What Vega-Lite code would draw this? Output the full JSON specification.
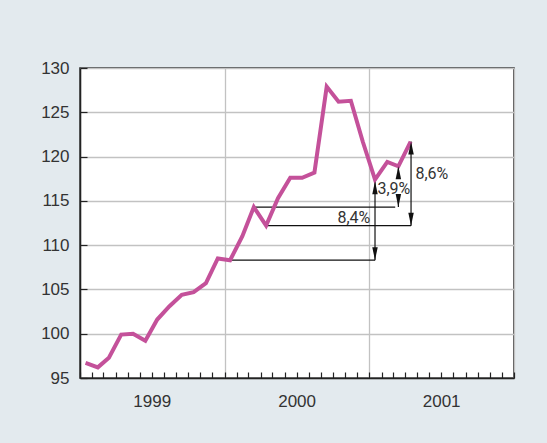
{
  "$schema": "https://vega.github.io/schema/vega-lite/v6.json",
  "width": 434,
  "height": 310,
  "autosize": {"type": "none"},
  "padding": {"left": 80, "top": 68, "right": 33, "bottom": 65},
  "background": "#e3eaee",
  "config": {
    "view": {"fill": "white", "stroke": "#222", "strokeWidth": 1.5},
    "font": "Liberation Sans",
    "axis": {
      "labelFont": "Liberation Sans",
      "labelColor": "#333",
      "labelFontSize": 17,
      "domainColor": "#222",
      "domainWidth": 1.5,
      "tickColor": "#222",
      "tickWidth": 1.2,
      "gridColor": "#c2c2c2",
      "gridWidth": 1.3
    }
  },
  "datasets": {
    "series": [
      {"date": "1999-01-15", "value": 96.7},
      {"date": "1999-02-15", "value": 96.2},
      {"date": "1999-03-15", "value": 97.3},
      {"date": "1999-04-15", "value": 99.9},
      {"date": "1999-05-15", "value": 100.0},
      {"date": "1999-06-15", "value": 99.2},
      {"date": "1999-07-15", "value": 101.6},
      {"date": "1999-08-15", "value": 103.1},
      {"date": "1999-09-15", "value": 104.4},
      {"date": "1999-10-15", "value": 104.7},
      {"date": "1999-11-15", "value": 105.7},
      {"date": "1999-12-15", "value": 108.5},
      {"date": "2000-01-15", "value": 108.3},
      {"date": "2000-02-15", "value": 111.0},
      {"date": "2000-03-15", "value": 114.3},
      {"date": "2000-04-15", "value": 112.2},
      {"date": "2000-05-15", "value": 115.3},
      {"date": "2000-06-15", "value": 117.6},
      {"date": "2000-07-15", "value": 117.6},
      {"date": "2000-08-15", "value": 118.2},
      {"date": "2000-09-15", "value": 127.9},
      {"date": "2000-10-15", "value": 126.2},
      {"date": "2000-11-15", "value": 126.3},
      {"date": "2000-12-15", "value": 121.7},
      {"date": "2001-01-15", "value": 117.4},
      {"date": "2001-02-15", "value": 119.4},
      {"date": "2001-03-15", "value": 118.9},
      {"date": "2001-04-15", "value": 121.7}
    ],
    "hlines": [
      {"start": "2000-01-15", "end": "2001-01-15", "value": 108.3},
      {"start": "2000-03-15", "end": "2001-03-07", "value": 114.3},
      {"start": "2000-04-15", "end": "2001-04-16", "value": 112.2}
    ],
    "stems": [
      {"date": "2001-01-15", "from": 108.3, "to": 117.2},
      {"date": "2001-03-15", "from": 118.9, "to": 117.6},
      {"date": "2001-03-15", "from": 114.3, "to": 115.5},
      {"date": "2001-04-16", "from": 112.2, "to": 121.7}
    ],
    "heads": [
      {"date": "2001-01-15", "value": 117.2, "dir": "up"},
      {"date": "2001-01-15", "value": 108.3, "dir": "down"},
      {"date": "2001-03-15", "value": 118.9, "dir": "up"},
      {"date": "2001-03-15", "value": 114.3, "dir": "down"},
      {"date": "2001-04-16", "value": 121.7, "dir": "up"},
      {"date": "2001-04-16", "value": 112.2, "dir": "down"}
    ],
    "labels": [
      {"date": "2000-10-12", "value": 113.1, "text": "8,4%"},
      {"date": "2001-01-21", "value": 116.3, "text": "3,9%"},
      {"date": "2001-04-27", "value": 118.0, "text": "8,6%"}
    ]
  },
  "layer": [
    {
      "data": {"name": "hlines"},
      "mark": {"type": "rule", "color": "#111", "strokeWidth": 1.2},
      "encoding": {
        "x": {"field": "start", "type": "temporal", "title": null,
          "scale": {"type": "utc", "domain": [{"year": 1999, "month": 1, "date": 1, "utc": true}, {"year": 2002, "month": 1, "date": 1, "utc": true}]},
          "axis": {
            "tickCount": {"interval": "month", "step": 1},
            "tickSize": -6,
            "labelExpr": "utcmonth(datum.value) == 6 ? '' + utcyear(datum.value) : ''",
            "labelOverlap": false,
            "labelFlush": false,
            "labelPadding": 21,
            "grid": true,
            "gridOpacity": {"condition": {"test": "utcmonth(datum.value) == 0", "value": 1}, "value": 0}
          }
        },
        "x2": {"field": "end"},
        "y": {"field": "value", "type": "quantitative", "title": null,
          "scale": {"domain": [95, 130], "nice": false, "zero": false},
          "axis": {"values": [95, 100, 105, 110, 115, 120, 125, 130], "tickSize": -7, "labelPadding": 18, "grid": true}
        }
      }
    },
    {
      "data": {"name": "stems"},
      "mark": {"type": "rule", "color": "#111", "strokeWidth": 1.2},
      "encoding": {
        "x": {"field": "date", "type": "temporal"},
        "y": {"field": "from", "type": "quantitative"},
        "y2": {"field": "to"}
      }
    },
    {
      "data": {"name": "series"},
      "mark": {"type": "line", "color": "#c4519a", "strokeWidth": 4, "strokeJoin": "miter"},
      "encoding": {
        "x": {"field": "date", "type": "temporal"},
        "y": {"field": "value", "type": "quantitative"}
      }
    },
    {
      "data": {"name": "heads"},
      "mark": {"type": "point", "filled": true, "color": "#111", "opacity": 1, "strokeWidth": 0, "size": 169},
      "encoding": {
        "x": {"field": "date", "type": "temporal"},
        "y": {"field": "value", "type": "quantitative"},
        "shape": {"field": "dir", "type": "nominal", "legend": null,
          "scale": {"domain": ["up", "down"], "range": ["M0,0L0.42,2L-0.42,2Z", "M0,0L0.42,-2L-0.42,-2Z"]}}
      }
    },
    {
      "data": {"name": "labels"},
      "mark": {"type": "text", "align": "left", "baseline": "middle", "fontSize": 16, "color": "#333", "font": "Roboto"},
      "encoding": {
        "x": {"field": "date", "type": "temporal"},
        "y": {"field": "value", "type": "quantitative"},
        "text": {"field": "text"}
      }
    }
  ]
}
